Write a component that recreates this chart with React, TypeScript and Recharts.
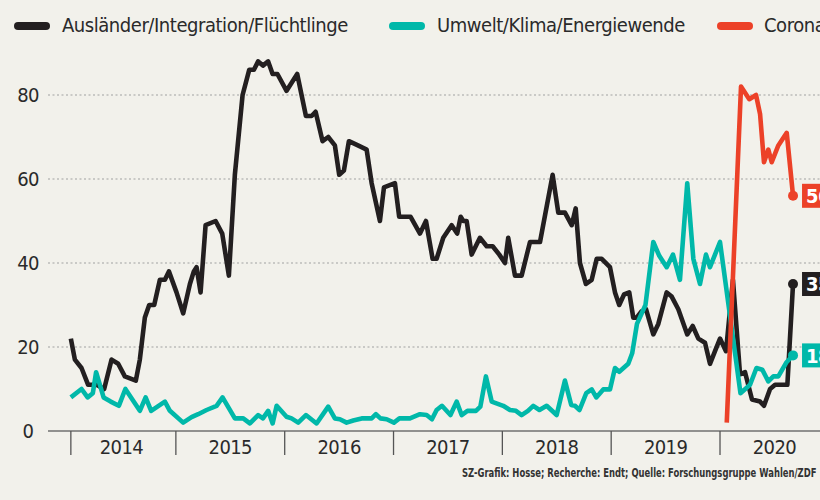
import React from 'react';
import { LineChart, Line, XAxis, YAxis, CartesianGrid, LabelList } from 'recharts';

const FONT = '"Liberation Sans Narrow", "Arial Narrow", "DejaVu Sans Condensed", "Roboto Condensed", "Noto Sans", sans-serif';

// ---- data (decimal year, share of mentions in %) ----
const auslaender: [number, number][] = [
  [2014.035, 22], [2014.072, 17], [2014.133, 15], [2014.194, 11], [2014.271, 11], [2014.341, 10], [2014.409, 17],
  [2014.470, 16], [2014.531, 13], [2014.632, 12], [2014.669, 17], [2014.715, 27], [2014.755, 30], [2014.801, 30],
  [2014.853, 36], [2014.899, 36], [2014.936, 38], [2015.006, 33], [2015.067, 28], [2015.129, 35], [2015.165, 38],
  [2015.190, 39], [2015.227, 33], [2015.273, 49], [2015.365, 50], [2015.426, 47], [2015.487, 37], [2015.542, 61],
  [2015.613, 80], [2015.674, 86], [2015.717, 86], [2015.756, 88], [2015.800, 87], [2015.848, 88], [2015.889, 85],
  [2015.933, 85], [2016.017, 81], [2016.115, 85], [2016.195, 75], [2016.247, 75], [2016.284, 76], [2016.348, 69],
  [2016.400, 70], [2016.461, 68], [2016.501, 61], [2016.544, 62], [2016.590, 69], [2016.673, 68], [2016.753, 67],
  [2016.799, 59], [2016.875, 50], [2016.912, 58], [2017.013, 59], [2017.052, 51], [2017.157, 51], [2017.243, 47],
  [2017.298, 50], [2017.359, 41], [2017.396, 41], [2017.457, 46], [2017.534, 49], [2017.585, 47], [2017.617, 51],
  [2017.641, 50], [2017.672, 50], [2017.718, 42], [2017.794, 46], [2017.856, 44], [2017.911, 44], [2017.972, 42],
  [2018.024, 40], [2018.054, 46], [2018.116, 37], [2018.177, 37], [2018.254, 45], [2018.346, 45], [2018.462, 61],
  [2018.514, 52], [2018.575, 52], [2018.637, 49], [2018.674, 53], [2018.713, 40], [2018.768, 35], [2018.821, 36],
  [2018.867, 41], [2018.913, 41], [2018.989, 39], [2019.035, 33], [2019.074, 30], [2019.118, 32.5], [2019.166, 33],
  [2019.203, 27], [2019.234, 27], [2019.280, 28.5], [2019.320, 29], [2019.387, 23], [2019.433, 25.5], [2019.510, 33],
  [2019.556, 32], [2019.617, 29], [2019.699, 23], [2019.749, 25], [2019.801, 22], [2019.862, 21], [2019.908, 16],
  [2019.954, 19], [2020.000, 22], [2020.055, 19], [2020.119, 36], [2020.184, 13.5], [2020.230, 14], [2020.294, 7.5],
  [2020.368, 7], [2020.404, 6], [2020.460, 10], [2020.506, 11], [2020.619, 11], [2020.671, 35],
];

const umwelt: [number, number][] = [
  [2014.035, 8], [2014.133, 10], [2014.189, 8], [2014.237, 9], [2014.267, 14], [2014.336, 8], [2014.401, 7],
  [2014.476, 6], [2014.536, 10], [2014.669, 4.8], [2014.722, 8], [2014.773, 4.8], [2014.899, 7], [2014.945, 4.8],
  [2015.067, 2], [2015.144, 3.3], [2015.205, 4], [2015.282, 5], [2015.374, 6], [2015.429, 8], [2015.542, 3],
  [2015.619, 3], [2015.680, 1.8], [2015.756, 3.8], [2015.800, 3], [2015.848, 4.8], [2015.889, 1.8], [2015.926, 6],
  [2016.017, 3.4], [2016.063, 3], [2016.124, 2], [2016.195, 3.8], [2016.293, 1.8], [2016.400, 5.8], [2016.461, 3],
  [2016.507, 2.8], [2016.569, 2], [2016.630, 2.5], [2016.707, 3], [2016.799, 3], [2016.838, 4], [2016.880, 3],
  [2016.937, 2.8], [2017.004, 2], [2017.054, 3], [2017.151, 3], [2017.243, 4], [2017.304, 3.8], [2017.353, 2.8],
  [2017.396, 5], [2017.445, 6], [2017.523, 3.8], [2017.580, 7], [2017.626, 3.8], [2017.679, 4.8], [2017.757, 4.8],
  [2017.798, 5.8], [2017.849, 13], [2017.902, 7], [2018.008, 6], [2018.070, 5], [2018.125, 4.8], [2018.177, 3.8],
  [2018.235, 4.8], [2018.284, 6], [2018.341, 5], [2018.407, 6], [2018.499, 3.8], [2018.575, 12], [2018.633, 6.2],
  [2018.667, 6], [2018.709, 5], [2018.771, 9], [2018.821, 9.9], [2018.863, 8], [2018.927, 9.9], [2018.989, 9.9],
  [2019.035, 15], [2019.074, 14.1], [2019.157, 16], [2019.193, 18.5], [2019.237, 25.5], [2019.315, 30], [2019.387, 45],
  [2019.442, 41.7], [2019.510, 39], [2019.568, 42], [2019.632, 36], [2019.699, 59], [2019.755, 41], [2019.816, 35],
  [2019.871, 42], [2019.908, 39], [2020.000, 45], [2020.188, 9], [2020.276, 11], [2020.335, 15], [2020.389, 14.6],
  [2020.444, 11.8], [2020.490, 13], [2020.536, 13], [2020.609, 16.3], [2020.671, 18],
];

const corona: [number, number][] = [
  [2020.062, 2], [2020.193, 82], [2020.269, 79], [2020.331, 80], [2020.368, 75.5], [2020.404, 64],
  [2020.444, 67], [2020.475, 64], [2020.536, 68], [2020.613, 71], [2020.671, 56],
];

const seriesNames = ['Ausländer/Integration/Flüchtlinge', 'Umwelt/Klima/Energiewende', 'Corona'];
const seriesColors = ['#231f20', '#00b8a9', '#ec4128'];
const yearLabels = ['2014', '2015', '2016', '2017', '2018', '2019', '2020'];
const yTicks = [0, 20, 40, 60, 80];
const sourceText = 'SZ-Grafik: Hosse; Recherche: Endt; Quelle: Forschungsgruppe Wahlen/ZDF';

const toRows = (pts: [number, number][]) => pts.map(([t, v]) => ({ t, v }));
const series = [auslaender, umwelt, corona].map((pts, i) => ({
  name: seriesNames[i],
  color: seriesColors[i],
  rows: toRows(pts),
}));

const yearBoundaries = [auslaender[0][0], ...yearLabels.slice(1).map(Number)];
const labelPositions = yearLabels.map((y) => Number(y) + 0.5);
const xTicks = [...yearBoundaries, ...labelPositions].sort((a, b) => a - b);

const BG = '#f2f1eb';
const TEXT = '#2a2a2a';

const XTick = (props: any) => {
  const { x, y, payload } = props;
  const idx = labelPositions.indexOf(payload.value);
  if (idx >= 0) {
    return (
      <text x={x} y={y + 16} dy="0.36em" textAnchor="middle" fontSize={20} letterSpacing={-0.6} fontFamily={FONT} fill={TEXT}>
        {yearLabels[idx]}
      </text>
    );
  }
  return <line x1={x} x2={x} y1={y} y2={y + 24} stroke="#555" strokeWidth={1.3} />;
};

const YTick = (props: any) => {
  const { y, payload } = props;
  return (
    <text x={28} y={y} dy="0.36em" textAnchor="middle" fontSize={20} letterSpacing={-0.6} fontFamily={FONT} fill={TEXT}>
      {payload.value}
    </text>
  );
};

const makeDot = (color: string, last: number) => (props: any) => {
  const { cx, cy, index } = props;
  if (index !== last) return <g key={`d${index}`} />;
  return <circle key={`d${index}`} cx={cx} cy={cy} r={5} fill={color} />;
};

const makeTag = (color: string, last: number) => (props: any) => {
  const { x, y, index, value } = props;
  if (index !== last) return null;
  return (
    <g>
      <rect x={x + 9} y={y - 12} width={38} height={24} fill={color} />
      <text x={x + 13} y={y} dy="0.36em" fill="#fff" fontWeight={700} fontSize={20} letterSpacing={-0.5} fontFamily={FONT}>
        {value}
      </text>
    </g>
  );
};

const legendPos = [
  { sw: 14, tx: 62 },
  { sw: 389, tx: 437 },
  { sw: 717, tx: 764 },
];

export default function App() {
  return (
    <div style={{ position: 'absolute', left: 0, top: 0, width: 820, height: 500, overflow: 'hidden', background: BG }}>
      <div style={{ position: 'absolute', left: 0, top: 0 }}>
        <LineChart width={870} height={500} margin={{ top: 44.6, right: 19.4, bottom: 0, left: 0 }}>
          <CartesianGrid vertical={false} horizontalValues={[20, 40, 60, 80]} stroke="#c9c9c6" strokeWidth={1.8} strokeDasharray="2 2.5" />
          <XAxis
            dataKey="t"
            type="number"
            domain={[2013.825, 2021.2]}
            allowDataOverflow
            ticks={xTicks}
            interval={0}
            tick={<XTick />}
            tickLine={false}
            tickSize={0}
            tickMargin={0}
            height={69}
            axisLine={{ stroke: '#707070', strokeWidth: 1.5 }}
          />
          <YAxis
            type="number"
            domain={[0, 92]}
            allowDataOverflow
            ticks={yTicks}
            interval={0}
            tick={<YTick />}
            tickLine={false}
            axisLine={false}
            width={48}
          />
          {series.map((s) => (
            <Line
              key={s.name}
              data={s.rows}
              dataKey="v"
              name={s.name}
              type="linear"
              stroke={s.color}
              strokeWidth={4.6}
              strokeLinejoin="round"
              dot={makeDot(s.color, s.rows.length - 1)}
              activeDot={false}
              isAnimationActive={false}
            >
              <LabelList dataKey="v" content={makeTag(s.color, s.rows.length - 1)} />
            </Line>
          ))}
        </LineChart>
      </div>
      {series.map((s, i) => (
        <div key={s.name}>
          <div
            style={{
              position: 'absolute',
              left: legendPos[i].sw,
              top: 21.5,
              width: 36,
              height: 8,
              borderRadius: 4,
              background: s.color,
            }}
          />
          <div
            style={{
              position: 'absolute',
              left: legendPos[i].tx,
              top: 12,
              height: 26,
              lineHeight: '26px',
              fontSize: 20,
              letterSpacing: -0.45,
              fontFamily: FONT,
              color: TEXT,
              whiteSpace: 'nowrap',
            }}
          >
            {s.name}
          </div>
        </div>
      ))}
      <div
        style={{
          position: 'absolute',
          right: 4,
          top: 465,
          fontSize: 12,
          fontWeight: 700,
          fontFamily: FONT,
          color: '#333',
          whiteSpace: 'nowrap',
          lineHeight: '16px',
          transform: 'scaleX(0.78)',
          transformOrigin: 'right center',
        }}
      >
        {sourceText}
      </div>
    </div>
  );
}
